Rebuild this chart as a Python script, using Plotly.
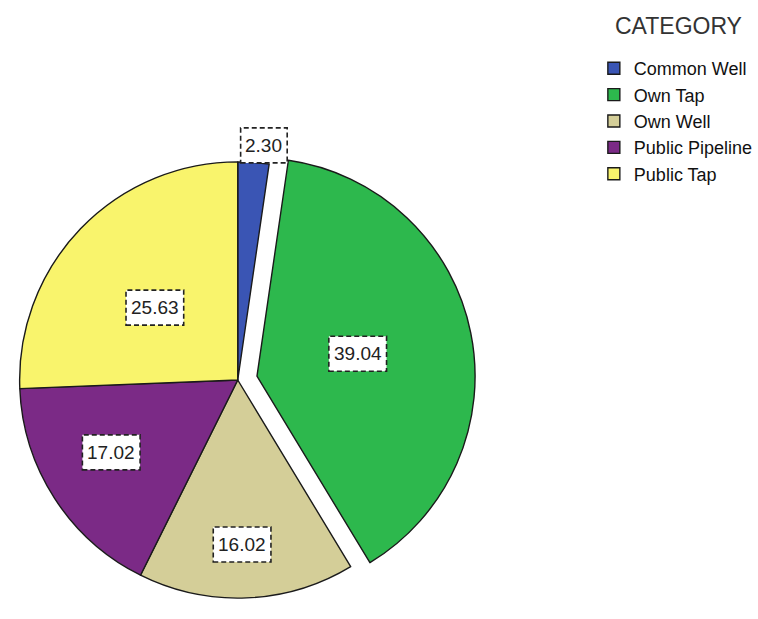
import plotly.graph_objects as go

# Water source shares (%)
categories = ["Common Well", "Own Tap", "Own Well", "Public Pipeline", "Public Tap"]
shares = [2.30, 39.04, 16.02, 17.02, 25.63]
colors = ["#3a55b4", "#2db84d", "#d4ce98", "#7b2a86", "#f9f46c"]
pulls = [0, 0.09, 0, 0, 0]
legend_title = "CATEGORY"

# Label box centres, relative to the pie centre in units of the radius
label_offsets = [(0.12, -1.07), (0.55, -0.12), (0.02, 0.75), (-0.58, 0.33), (-0.38, -0.33)]

W, H = 758, 619
FONT = "Arial, Liberation Sans, sans-serif"
box_half = 239            # half of the square box that holds the pie (incl. pull)
cx, cy = 239, 380         # pie centre, px
r = box_half / (1 + max(pulls))

fig = go.Figure(go.Pie(
    labels=categories,
    values=shares,
    sort=False,
    direction="clockwise",
    rotation=0,
    pull=pulls,
    textinfo="none",
    hoverinfo="label+value",
    marker=dict(colors=colors, line=dict(color="#1a1a1a", width=1.4)),
    domain=dict(x=[(cx - box_half) / W, (cx + box_half) / W],
                y=[1 - (cy + box_half) / H, 1 - (cy - box_half) / H]),
))

shapes, annotations = [], []
for val, (ox, oy) in zip(shares, label_offsets):
    txt = f"{val:.2f}"
    px, py = cx + ox * r, cy + oy * r
    bw, bh = 11.2 * len(txt) + 2, 35
    shapes.append(dict(
        type="rect", xref="paper", yref="paper", layer="above",
        x0=(px - bw / 2) / W, x1=(px + bw / 2) / W,
        y0=1 - (py + bh / 2) / H, y1=1 - (py - bh / 2) / H,
        fillcolor="white", line=dict(color="#222222", width=1.6, dash="5px,3px"),
    ))
    annotations.append(dict(
        x=px / W, y=1 - py / H, xref="paper", yref="paper",
        text=txt, showarrow=False,
        font=dict(family=FONT, size=19, color="#222222"),
        xanchor="center", yanchor="middle",
    ))

# Legend heading
annotations.append(dict(
    x=682 / W, y=1 - 26 / H, xref="paper", yref="paper",
    text=legend_title, showarrow=False,
    font=dict(family=FONT, size=23, color="#333333"),
    xanchor="center", yanchor="middle",
))

fig.update_layout(
    width=W, height=H,
    margin=dict(l=0, r=0, t=0, b=0),
    paper_bgcolor="white", plot_bgcolor="white",
    showlegend=True,
    legend=dict(
        x=597 / W, y=1 - 50 / H, xanchor="left", yanchor="top",
        font=dict(family=FONT, size=18, color="#111111"),
        itemwidth=30, bgcolor="rgba(0,0,0,0)",
    ),
    shapes=shapes,
    annotations=annotations,
)

fig.write_html("out.html")
